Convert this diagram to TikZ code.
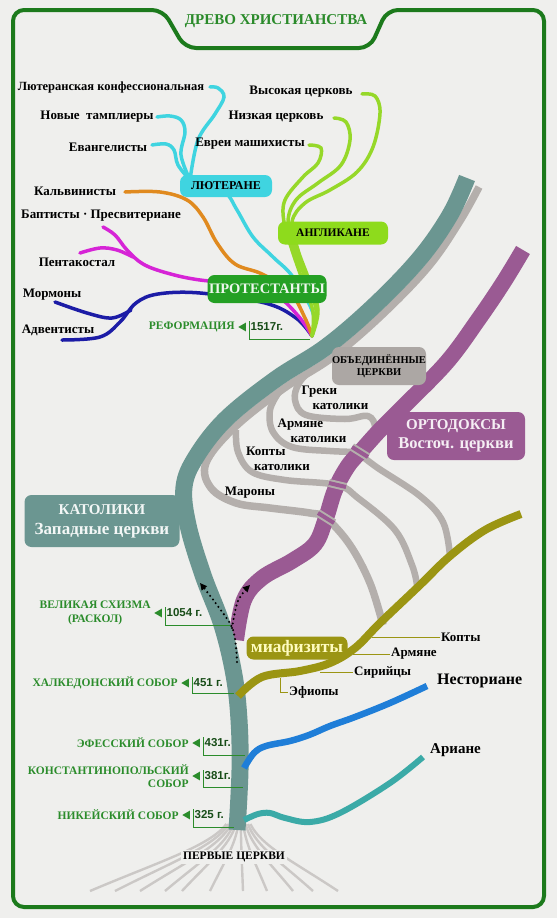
\documentclass[tikz,border=0pt]{standalone}
\usepackage{fontspec}
\setmainfont{Liberation Serif}
\newfontfamily\yearfont{Liberation Sans}
\usetikzlibrary{positioning, arrows.meta, shapes.geometric}
\definecolor{bgc}{HTML}{EFEFED}
\definecolor{frameg}{HTML}{1C7A1C}
\definecolor{titleg}{HTML}{2A8A2A}
\definecolor{dgreen}{HTML}{2B8C2B}
\definecolor{tealc}{HTML}{6B9691}
\definecolor{grayb}{HTML}{B4AFAC}
\definecolor{boxgray}{HTML}{ACA7A4}
\definecolor{purp}{HTML}{9A5A93}
\definecolor{olivec}{HTML}{9B9513}
\definecolor{nestc}{HTML}{1F7ED8}
\definecolor{arianc}{HTML}{3BAAA7}
\definecolor{navyc}{HTML}{1C1CA6}
\definecolor{magc}{HTML}{D624D6}
\definecolor{orngc}{HTML}{E08A1F}
\definecolor{cyanc}{HTML}{3FD4E0}
\definecolor{limec}{HTML}{96D829}
\definecolor{limebox}{HTML}{8EDB1C}
\definecolor{protg}{HTML}{24A024}
\definecolor{rootc}{HTML}{CBC8C6}
\tikzset{
  lbl/.style={font=\bfseries\fontsize{13}{15}\selectfont, inner sep=1pt, align=left},
  biglbl/.style={font=\bfseries\fontsize{15}{17}\selectfont, inner sep=1pt},
  midlbl/.style={font=\bfseries\fontsize{13}{15}\selectfont, inner sep=1pt},
  datelbl/.style={font=\bfseries\fontsize{11.5}{13.5}\selectfont, text=dgreen, inner sep=1pt},
  yearlbl/.style={font=\yearfont\bfseries\fontsize{11.5}{13}\selectfont, text=dgreen!55!black, inner sep=1.5pt},
  bracket/.style={draw=dgreen, line width=0.9pt},
  tri/.style={regular polygon, regular polygon sides=3, shape border rotate=90, fill=dgreen,
              inner sep=0pt, minimum size=10pt},
  grpbox/.style={rounded corners=7pt, inner sep=0pt, align=center, font=\bfseries},
  pline/.style={line width=3.5pt, line cap=round},
  gline/.style={draw=grayb, line width=6.5pt},
  bridge/.style={draw=grayb, line width=2pt, double=purp, double distance=4pt},
  root/.style={draw=rootc, line width=2.4pt},
  leader/.style={draw=olivec, line width=1pt},
  darr/.style={draw=black, line width=2.3pt, dash pattern=on 0pt off 4.6pt, line cap=round,
               -{Triangle[length=7pt, width=6.5pt]}},
}

\begin{document}
\begin{tikzpicture}[x=1pt, y=-1pt]
% background and frame
\fill[bgc] (0,0) rectangle (557,918);
\draw[frameg, line width=4pt, rounded corners=11pt] (13,10) -- (163,10) -- (185,48) -- (370,48)
  -- (387,10) -- (544,10) -- (544,907) -- (13,907) -- cycle;
\node[font=\bfseries\fontsize{15}{17}\selectfont, text=titleg] (title) at (276,21) {ДРЕВО ХРИСТИАНСТВА};

% roots
\foreach \ex [count=\i] in {90,115,140,165,182,210,243,267,293,313,338} {
  \pgfmathsetmacro{\sx}{224+2.4*\i}
  \draw[root] (\sx,824) .. controls ({\sx+0.12*(\ex-\sx)},846) and ({\sx+0.5*(\ex-\sx)},862) .. (\ex,891);
}
\node[lbl, fill=bgc, inner sep=2pt, font=\bfseries\fontsize{11.5}{13}\selectfont] (first) at (234,857) {ПЕРВЫЕ ЦЕРКВИ};

% united churches (gray)
\draw[gline, line width=7.5pt] plot[smooth, tension=0.6] coordinates {(479,187) (460,221) (429,266) (383,314)
  (333,357) (283,389) (234,428) (206,463) (211,488) (236,503) (270,508) (310,513) (326,518) (350,545)
  (370,583) (383,625)};
\draw[gline] plot[smooth, tension=0.6] coordinates {(236,430) (238,452) (252,472) (285,480) (337,485)
  (358,498) (395,530) (412,565) (417,585)};
\draw[gline] plot[smooth, tension=0.6] coordinates {(279,392) (270,410) (273,432) (292,447) (330,451) (360,452)};
\draw[gline] plot[smooth, tension=0.6] coordinates {(313,368) (299,383) (295,400) (306,415) (345,419)
  (368,416) (375,428) (367,443) (360,452) (375,466) (420,496) (443,522) (450,556)};
\node[lbl] (greki) at (335,398) {Греки\\\hspace*{11pt}католики};
\node[lbl] (armyane) at (312,431) {Армяне\\\hspace*{13pt}католики};
\node[lbl] (koptyk) at (278,459) {Копты\\\hspace*{8pt}католики};
\node[lbl] (marony) at (250,493) {Мароны};

% orthodox trunk
\draw[purp, line width=16pt] plot[smooth, tension=0.6] coordinates {(236,640) (244,600) (262,578) (292,561)
  (315,544) (326,518) (335,490) (348,466) (362,450) (380,430) (405,405) (447,362) (478,320) (503,283) (523,250)};
\draw[bridge] (318,513) -- (334,523);
\draw[bridge] (329,483) -- (346,487);
\draw[bridge] (352,447) -- (368,457);
\node[grpbox, fill=purp, text=white!90!purp, minimum width=138pt, minimum height=48pt,
      font=\bfseries\fontsize{15}{19}\selectfont] (orth) at (456,436)
      {ОРТОДОКСЫ\\{\fontsize{16.5}{19}\selectfont Восточ. церкви}};

% catholic trunk
\draw[tealc, line width=17pt] plot[smooth, tension=0.6] coordinates {(237,830) (240,770) (239,720) (234,675)
  (222,625) (203,575) (188,525) (184,487) (196,457) (226,419) (276,379) (326,347) (375,305) (420,258)
  (450,215) (467,178)};
\node[grpbox, fill=tealc, text=white!92!tealc, minimum width=155pt, minimum height=52pt,
      font=\bfseries\fontsize{15}{20}\selectfont] (cath) at (102,521)
      {КАТОЛИКИ\\{\fontsize{17}{20}\selectfont Западные церкви}};
\node[grpbox, fill=boxgray, minimum width=94pt, minimum height=38pt,
      font=\bfseries\fontsize{10.5}{12}\selectfont] (united) at (379,366) {ОБЪЕДИНЁННЫЕ\\ЦЕРКВИ};

% miaphysites
\draw[olivec, line width=8pt] plot[smooth, tension=0.6] coordinates {(238,696) (262,677) (300,671) (330,663)
  (355,648) (380,623) (420,585) (450,556) (485,530) (521,514)};
\node[grpbox, fill=olivec, text=yellow!25!white, minimum width=101pt, minimum height=23pt,
      font=\bfseries\fontsize{17.5}{19}\selectfont] (miaph) at (297,648) {миафизиты};
\node[midlbl, anchor=west] (kopty) at (440,637) {Копты};
\node[midlbl, anchor=west] (armn) at (390,654) {Армяне};
\node[midlbl, anchor=west] (syr) at (353,672) {Сирийцы};
\node[midlbl, anchor=west] (ethi) at (288,692) {Эфиопы};
\coordinate (oKop) at (372,637);
\coordinate (oArm) at (353,654);
\coordinate (oSyr) at (320,672);
\coordinate (oEth) at (280,678);
\draw[leader] (oKop) -- (oKop -| kopty.west);
\draw[leader] (oArm) -- (oArm -| armn.west);
\draw[leader] (oSyr) -- (oSyr -| syr.west);
\draw[leader] (oEth) |- (ethi.west);

% nestorians and arians
\draw[nestc, line width=6.5pt] plot[smooth, tension=0.6] coordinates {(244,768) (254,753) (266,746) (290,741)
  (309,735) (330,726) (355,717) (390,703) (427,686)};
\node[biglbl, anchor=west, font=\bfseries\fontsize{16}{18}\selectfont] (nestor) at (436,681) {Несториане};
\draw[arianc, line width=6pt] plot[smooth, tension=0.6] coordinates {(244,820) (258,814) (270,813) (285,818)
  (310,822) (340,813) (390,783) (423,757)};
\node[biglbl, anchor=west] (arians) at (429,750) {Ариане};

% protestants
\coordinate (fan) at (312,336);
\draw[pline, navyc] plot[smooth, tension=0.6] coordinates {(fan) (296,318) (265,303) (200,293) (158,294)
  (136,303) (120,322) (100,337) (62,340)};
\draw[pline, navyc] plot[smooth, tension=0.6] coordinates {(131,310) (112,318) (87,313) (55,302)};
\draw[pline, magc] plot[smooth, tension=0.6] coordinates {(fan) (300,318) (278,296) (253,285) (200,280)
  (167,273) (143,264) (127,250) (115,235) (103,227)};
\draw[pline, magc] plot[smooth, tension=0.6] coordinates {(133,257) (117,250) (100,248) (80,253)};
\draw[pline, orngc] plot[smooth, tension=0.6] coordinates {(fan) (305,318) (290,292) (262,274) (235,264)
  (217,243) (203,217) (187,200) (160,192) (125,192)};
\draw[pline, cyanc] plot[smooth, tension=0.6] coordinates {(fan) (313,313) (293,277) (273,257) (253,237)
  (237,210) (225,192) (200,180) (188,177)};
\draw[pline, cyanc] plot[smooth, tension=0.6] coordinates {(190,180) (178,165) (174,150) (166,144) (152,145)};
\draw[pline, cyanc] plot[smooth, tension=0.6] coordinates {(190,180) (181,155) (185,132) (181,120) (170,116) (157,117)};
\draw[pline, cyanc] plot[smooth, tension=0.6] coordinates {(190,180) (198,140) (215,114) (224,97) (218,88) (210,87)};
\draw[pline, limec] plot[smooth, tension=0.6] coordinates {(fan) (313,312) (303,282) (292,250) (284,222)
  (285,200) (303,177) (318,163) (321,148) (309,145)};
\draw[pline, limec] plot[smooth, tension=0.6] coordinates {(fan) (316,310) (306,280) (295,250) (288,222)
  (296,200) (318,183) (341,165) (350,140) (346,122) (334,118)};
\draw[pline, limec] plot[smooth, tension=0.6] coordinates {(fan) (318,310) (309,280) (298,250) (292,222)
  (305,203) (330,190) (357,172) (373,147) (380,113) (375,96) (362,94)};
\node[grpbox, fill=cyanc, minimum width=92pt, minimum height=22pt,
      font=\bfseries\fontsize{12}{14}\selectfont] (luth) at (226,186) {ЛЮТЕРАНЕ};
\node[grpbox, fill=limebox, minimum width=110pt, minimum height=23pt,
      font=\bfseries\fontsize{11.5}{14}\selectfont] (angl) at (333,233) {АНГЛИКАНЕ};
\node[grpbox, fill=protg, text=white!92!protg, minimum width=119pt, minimum height=28pt,
      font=\bfseries\fontsize{14.5}{16}\selectfont] (prot) at (267,289) {ПРОТЕСТАНТЫ};

% denominations
\node[lbl, font=\bfseries\fontsize{12.5}{14}\selectfont] (lconf) at (111,87) {Лютеранская конфессиональная};
\node[lbl] (templ) at (97,117) {Новые\ \ тамплиеры};
\node[lbl] (evang) at (108,147) {Евангелисты};
\node[lbl] (high) at (301,92) {Высокая церковь};
\node[lbl] (low) at (276,117) {Низкая церковь};
\node[lbl] (messian) at (250,144) {Евреи машихисты};
\node[lbl] (calv) at (75,191) {Кальвинисты};
\node[lbl] (bapt) at (101,216) {Баптисты · Пресвитериане};
\node[lbl] (pent) at (77,262) {Пентакостал};
\node[lbl] (morm) at (52,295) {Мормоны};
\node[lbl] (adv) at (58,330) {Адвентисты};

% dates
\node[yearlbl, anchor=west] (y1517) at (249,327) {1517г.};
\node[tri, left=3pt of y1517] (tr1517) {};
\node[datelbl, left=2pt of tr1517] (reform) {РЕФОРМАЦИЯ};
\coordinate (t1517) at (310,339);
\draw[bracket] (y1517.north west) |- (t1517);

\node[yearlbl, anchor=west] (y1054) at (165,613) {1054 г.};
\node[tri, left=3pt of y1054] (tr1054) {};
\node[datelbl, left=2pt of tr1054, align=center] (schism) {ВЕЛИКАЯ СХИЗМА\\(РАСКОЛ)};
\coordinate (t1054) at (230,625);
\draw[bracket] (y1054.north west) |- (t1054);

\node[yearlbl, anchor=west] (y451) at (192,683) {451 г.};
\node[tri, left=3pt of y451] (tr451) {};
\node[datelbl, left=2pt of tr451] (chalc) {ХАЛКЕДОНСКИЙ СОБОР};
\coordinate (t451) at (234,693);
\draw[bracket] (y451.north west) |- (t451);

\node[yearlbl, anchor=west] (y431) at (203,743) {431г.};
\node[tri, left=3pt of y431] (tr431) {};
\node[datelbl, left=2pt of tr431] (ephes) {ЭФЕССКИЙ СОБОР};
\coordinate (t431) at (245,755);
\draw[bracket] (y431.north west) |- (t431);

\node[yearlbl, anchor=west] (y381) at (203,776) {381г.};
\node[tri, left=3pt of y381] (tr381) {};
\node[datelbl, left=2pt of tr381, align=right] (const) {КОНСТАНТИНОПОЛЬСКИЙ\\СОБОР};
\coordinate (t381) at (243,787);
\draw[bracket] (y381.north west) |- (t381);

\node[yearlbl, anchor=west] (y325) at (193,815) {325 г.};
\node[tri, left=3pt of y325] (tr325) {};
\node[datelbl, left=2pt of tr325] (nicae) {НИКЕЙСКИЙ СОБОР};
\coordinate (t325) at (234,827);
\draw[bracket] (y325.north west) |- (t325);

% schism arrows
\draw[darr] plot[smooth, tension=0.6] coordinates {(237,662) (233,630) (217,605) (200,583)};
\draw[darr] plot[smooth, tension=0.6] coordinates {(232,628) (238,601) (250,585)};
\end{tikzpicture}
\end{document}
